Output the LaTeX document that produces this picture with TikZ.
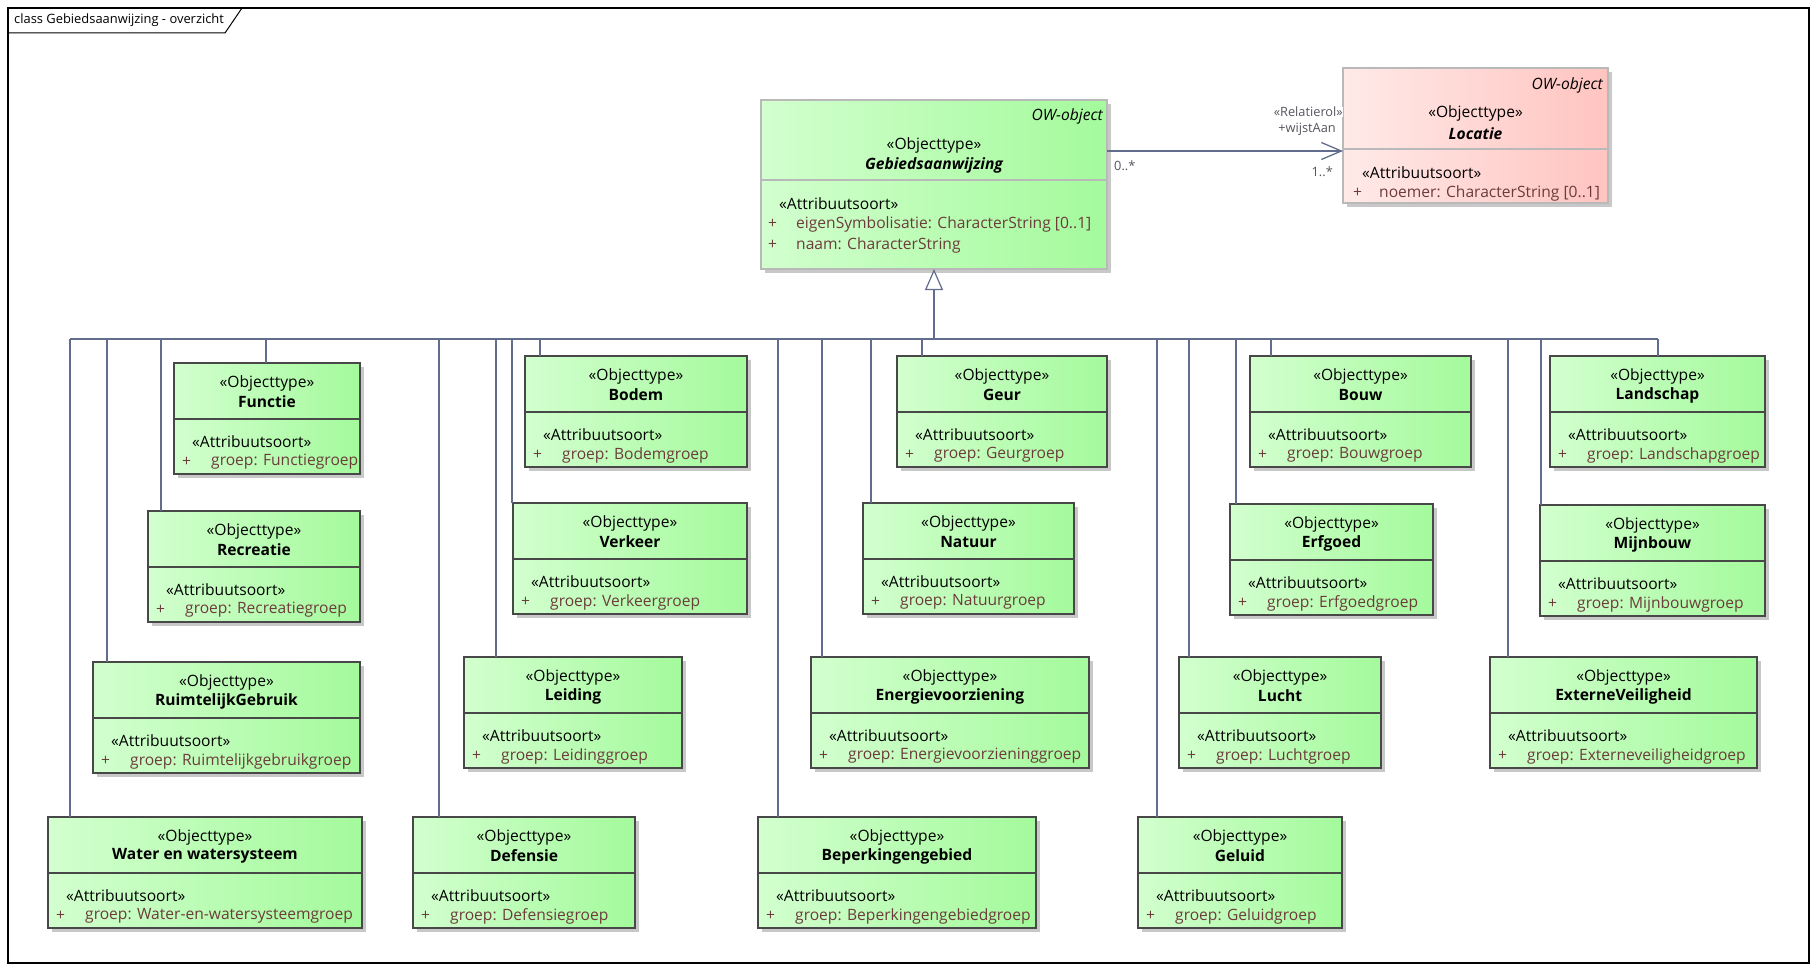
\documentclass[tikz,border=0pt]{standalone}
\usepackage{fontspec}
\setmainfont{Open Sans}
\usetikzlibrary{arrows.meta,shadows}
\definecolor{gl}{RGB}{210,255,206}
\definecolor{gr}{RGB}{164,250,156}
\definecolor{rl}{RGB}{255,234,232}
\definecolor{rr}{RGB}{255,196,192}
\definecolor{bord}{RGB}{72,72,72}
\definecolor{lbord}{RGB}{185,185,185}
\definecolor{conn}{RGB}{98,108,140}
\definecolor{attrc}{RGB}{108,60,60}
\definecolor{labc}{RGB}{85,85,95}
\definecolor{shad}{RGB}{200,200,200}
\newcommand\fs{\fontsize{15.6pt}{18pt}\selectfont}
\newcommand\fsm{\fontsize{12.8pt}{14pt}\selectfont}
\tikzset{
  x=1pt, y=-1pt,
  clsbox/.style={rectangle, draw=bord, line width=2.5pt, left color=gl, right color=gr,
    inner sep=0pt, outer sep=0pt, anchor=north west,
    drop shadow={shadow xshift=4pt, shadow yshift=-4pt, fill=shad, opacity=1}},
  topbox/.style={rectangle, draw=lbord, line width=1.5pt, left color=gl, right color=gr,
    inner sep=0pt, outer sep=0pt, anchor=north west,
    drop shadow={shadow xshift=4pt, shadow yshift=-4pt, fill=shad, opacity=1}},
  redbox/.style={topbox, left color=rl, right color=rr},
  clsline/.style={draw=bord, line width=2.5pt},
  topline/.style={draw=lbord, line width=1.5pt},
  txt/.style={inner sep=0pt, font=\fs, text=black},
  attr/.style={inner sep=0pt, font=\fs, text=attrc, anchor=west},
  lab/.style={inner sep=0pt, font=\fsm, text=labc},
  gen/.style={draw=conn, line width=1.2pt},
}
% #1 name, #2 x, #3 y, #4 width, #5 class name, #6 group name
\newcommand\umlcls[6]{%
  \node[clsbox, minimum width=#4pt, minimum height=111pt] (#1) at (#2,#3) {};
  \draw[clsline] ([yshift=-56pt]#1.north west) -- ([yshift=-56pt]#1.north east);
  \node[txt] (#1-st) at ([yshift=-20pt]#1.north) {«Objecttype»};
  \node[txt, font=\fs\bfseries] (#1-nm) at ([yshift=-39pt]#1.north) {#5};
  \node[txt, anchor=west] (#1-as) at ([xshift=18pt,yshift=-79pt]#1.north west) {«Attribuutsoort»};
  \node[attr] (#1-pl) at ([xshift=8pt,yshift=-99pt]#1.north west) {+};
  \node[attr] (#1-at) at ([xshift=37pt,yshift=-99pt]#1.north west) {groep: #6};
}
\begin{document}
\begin{tikzpicture}
\useasboundingbox (0,0) rectangle (1817,971);
\fill[white] (0,0) rectangle (1817,971);
% frame
\draw[line width=1.3pt] (8,8) rectangle (1809,963);
\draw[line width=1pt] (8,33) -- (225,33) -- (242,8);
\node[inner sep=0pt, anchor=west, font=\fontsize{12.9pt}{14pt}\selectfont] (title) at (14,20) {class Gebiedsaanwijzing - overzicht};

% top classes
\node[topbox, minimum width=346pt, minimum height=169pt] (gebied) at (761,100) {};
\draw[topline] ([yshift=-80pt]gebied.north west) -- ([yshift=-80pt]gebied.north east);
\node[txt, anchor=east, font=\fs\itshape] (gebied-ow) at ([xshift=-4pt,yshift=-16pt]gebied.north east) {OW-object};
\node[txt] (gebied-st) at ([yshift=-45pt]gebied.north) {«Objecttype»};
\node[txt, font=\fs\bfseries\itshape] (gebied-nm) at ([yshift=-65pt]gebied.north) {Gebiedsaanwijzing};
\node[txt, anchor=west] (gebied-as) at ([xshift=18pt,yshift=-104pt]gebied.north west) {«Attribuutsoort»};
\node[attr] (gebied-p1) at ([xshift=7pt,yshift=-124pt]gebied.north west) {+};
\node[attr] (gebied-a1) at ([xshift=35pt,yshift=-124pt]gebied.north west) {eigenSymbolisatie: CharacterString [0..1]};
\node[attr] (gebied-p2) at ([xshift=7pt,yshift=-145pt]gebied.north west) {+};
\node[attr] (gebied-a2) at ([xshift=35pt,yshift=-145pt]gebied.north west) {naam: CharacterString};

\node[redbox, minimum width=265pt, minimum height=135pt] (locatie) at (1343,68) {};
\draw[topline] ([yshift=-81pt]locatie.north west) -- ([yshift=-81pt]locatie.north east);
\node[txt, anchor=east, font=\fs\itshape] (locatie-ow) at ([xshift=-5pt,yshift=-17pt]locatie.north east) {OW-object};
\node[txt] (locatie-st) at ([yshift=-45pt]locatie.north) {«Objecttype»};
\node[txt, font=\fs\bfseries\itshape] (locatie-nm) at ([yshift=-66pt]locatie.north) {Locatie};
\node[txt, anchor=west] (locatie-as) at ([xshift=19pt,yshift=-105pt]locatie.north west) {«Attribuutsoort»};
\node[attr] (locatie-p1) at ([xshift=10pt,yshift=-125pt]locatie.north west) {+};
\node[attr] (locatie-a1) at ([xshift=36pt,yshift=-125pt]locatie.north west) {noemer: CharacterString [0..1]};

% association
\coordinate (ay) at (0,151);
\draw[gen, -{Straight Barb[length=20pt, width=17pt, line width=1.3pt]}] (gebied.east |- ay) -- (locatie.west |- ay);
\node[lab, anchor=east, fill=white] (rel) at (1343,112) {«Relatierol»};
\node[lab, anchor=east] (role) at (1336,129) {+wijstAan};
\node[lab, anchor=west] (m0) at (1114,166) {0..*};
\node[lab, anchor=east] (m1) at (1333,172) {1..*};

% child classes
\umlcls{functie}{174}{363}{186}{Functie}{Functiegroep}
\umlcls{recreatie}{148}{511}{212}{Recreatie}{Recreatiegroep}
\umlcls{ruimtelijk}{93}{662}{267}{RuimtelijkGebruik}{Ruimtelijkgebruikgroep}
\umlcls{water}{48}{817}{314}{Water en watersysteem}{Water-en-watersysteemgroep}
\umlcls{bodem}{525}{356}{222}{Bodem}{Bodemgroep}
\umlcls{verkeer}{513}{503}{234}{Verkeer}{Verkeergroep}
\umlcls{leiding}{464}{657}{218}{Leiding}{Leidinggroep}
\umlcls{defensie}{413}{817}{222}{Defensie}{Defensiegroep}
\umlcls{geur}{897}{356}{210}{Geur}{Geurgroep}
\umlcls{natuur}{863}{503}{211}{Natuur}{Natuurgroep}
\umlcls{energie}{811}{657}{278}{Energievoorziening}{Energievoorzieninggroep}
\umlcls{beperking}{758}{817}{278}{Beperkingengebied}{Beperkingengebiedgroep}
\umlcls{bouw}{1250}{356}{221}{Bouw}{Bouwgroep}
\umlcls{erfgoed}{1230}{504}{203}{Erfgoed}{Erfgoedgroep}
\umlcls{lucht}{1179}{657}{202}{Lucht}{Luchtgroep}
\umlcls{geluid}{1138}{817}{204}{Geluid}{Geluidgroep}
\umlcls{landschap}{1550}{356}{215}{Landschap}{Landschapgroep}
\umlcls{mijnbouw}{1540}{505}{225}{Mijnbouw}{Mijnbouwgroep}
\umlcls{extern}{1490}{657}{267}{ExterneVeiligheid}{Externeveiligheidgroep}

% generalization tree
\coordinate (bar) at (0,339);
\draw[gen] ([xshift=22pt]water.north west |- bar) -- ([xshift=108pt]landschap.north west |- bar);
\foreach \n/\dx in {water/22, ruimtelijk/14, recreatie/13, functie/92, defensie/26, leiding/32,
  verkeer/-1, bodem/15, beperking/20, energie/11, natuur/8, geur/25, geluid/19, lucht/10,
  erfgoed/6, bouw/21, extern/18, mijnbouw/1, landschap/108}
  \draw[gen] ([xshift=\dx pt]\n.north west) -- ([xshift=\dx pt]\n.north west |- bar);
\draw[gen, -{Triangle[open, length=21pt, width=18pt, line width=1.2pt, fill=white]}] (gebied.south |- bar) -- (gebied.south);
\end{tikzpicture}
\end{document}
